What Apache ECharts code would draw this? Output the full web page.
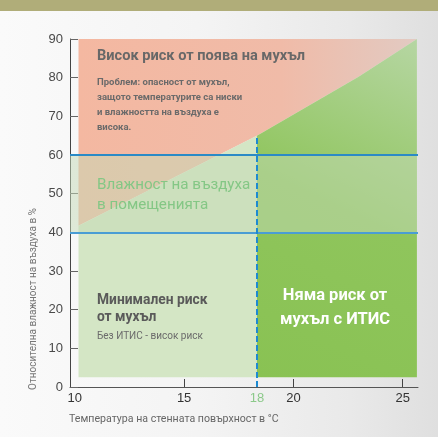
<!DOCTYPE html>
<html>
<head>
<meta charset="utf-8">
<script src="https://cdn.jsdelivr.net/npm/echarts@6/dist/echarts.min.js"></script>
<style>
  html, body { margin: 0; padding: 0; }
  body {
    width: 438px; height: 437px; overflow: hidden; position: relative;
    background: linear-gradient(to right, #fafafa 0%, #f4f4f4 45%, #e9e9e9 80%, #dfdfdf 100%);
  }
  #banner { position: absolute; left: 0; top: 0; width: 438px; height: 11px; background: #b0ad79; }
  #main { position: absolute; left: 0; top: 0; width: 438px; height: 437px; }
</style>
</head>
<body>
<div id="banner"></div>
<div id="main"></div>
<script>
  // значения, отчетени от графиката
  const xLabels = [10, 15, 18.33, 20, 25];   // 18 стои малко вдясно от истинското място
  const xTicks = [15, 20, 25];
  const yTicks = [0, 10, 20, 30, 40, 50, 60, 70, 80, 90];
  const itisTemp = 18.33;
  const humidityRange = [40, 60];
  const riskBoundary = [[10.17, 41.7], [18.33, 65], [23.0, 80.3], [25.65, 90]];

  // зони (полигони в координати на осите)
  const highRiskZone = [[10.17, 41.7], [10.17, 90], [25.65, 90], [23.0, 80.3], [18.33, 65]];
  const minimalRiskZone = [[10.17, 2.5], [10.17, 41.7], [18.33, 65], [18.33, 2.5]];
  const noRiskZone = [[18.33, 2.5], [18.33, 65], [23.0, 80.3], [25.65, 90], [25.65, 2.5]];
  const humidityZone = [[9.78, 40], [9.78, 60], [25.65, 60], [25.65, 40]];

  const zones = [highRiskZone, minimalRiskZone, noRiskZone, humidityZone];
  const zoneFills = [
    new echarts.graphic.LinearGradient(0, 0, 1, 0, [
      { offset: 0, color: '#f4b8a1' },
      { offset: 0.6, color: '#f0bba8' },
      { offset: 1, color: '#e2cac2' }
    ]),
    '#d4e6c5',
    new echarts.graphic.LinearGradient(0, 1, 1, 0, [
      { offset: 0, color: '#89c253' },
      { offset: 0.5, color: '#8fc55c' },
      { offset: 1, color: '#b6d6a3' }
    ]),
    'rgba(196,217,182,0.51)'
  ];

  const myChart = echarts.init(document.getElementById('main'));
  const condensed = "'Liberation Sans Narrow', Roboto, sans-serif";

  const option = {
    animation: false,
    grid: { left: 70, right: 20, top: 39, bottom: 50 },
    xAxis: {
      type: 'value',
      min: 9.78,
      max: 25.7,
      splitLine: { show: false },
      axisLine: { lineStyle: { color: '#555', width: 1 } },
      axisTick: { inside: true, length: 8, customValues: xTicks, lineStyle: { color: '#444' } },
      axisLabel: {
        customValues: xLabels,
        margin: 5,
        fontSize: 13,
        fontFamily: 'Liberation Sans, Arial, sans-serif',
        formatter: function (v) {
          const t = Math.round(v);
          return t === 18 ? '{g|' + t + '}' : String(t);
        },
        color: '#333',
        rich: { g: { color: '#8cc98a', fontSize: 13, fontFamily: 'Liberation Sans, Arial, sans-serif' } }
      }
    },
    yAxis: {
      type: 'value',
      min: 0,
      max: 90,
      interval: 10,
      splitLine: { show: false },
      axisLine: { show: true, lineStyle: { color: '#444', width: 1 } },
      axisTick: { show: true, inside: true, length: 8, lineStyle: { color: '#666' } },
      axisLabel: {
        customValues: yTicks,
        margin: 7,
        fontSize: 13,
        fontFamily: 'Liberation Sans, Arial, sans-serif',
        color: '#4a4a4a'
      }
    },
    series: [
      {
        type: 'custom',
        silent: true,
        z: 2,
        data: zones.map(function (z) { return z[0]; }),
        renderItem: function (params, api) {
          const pts = zones[params.dataIndex].map(function (p) { return api.coord(p); });
          return { type: 'polygon', shape: { points: pts }, style: { fill: zoneFills[params.dataIndex] } };
        }
      },
      {
        type: 'line',
        data: [],
        z: 5,
        markLine: {
          silent: true,
          symbol: 'none',
          label: { show: false },
          data: [
            { yAxis: humidityRange[1], lineStyle: { color: '#2b8ac6', width: 2, type: 'solid' } },
            { yAxis: humidityRange[0], lineStyle: { color: '#4a9dd4', width: 2, type: 'solid' } },
            [
              { coord: [itisTemp, 0], lineStyle: { color: '#1d8ad2', width: 2, type: [6, 3] } },
              { coord: [itisTemp, riskBoundary[1][1]] }
            ]
          ]
        }
      }
    ],
    graphic: [
      {
        type: 'text', left: 97, top: 49, z: 10,
        style: { text: 'Висок риск от поява на мухъл', fill: '#686868', font: 'bold 14.6px ' + condensed }
      },
      {
        type: 'text', left: 97, top: 75, z: 10,
        style: {
          text: 'Проблем: опасност от мухъл,\nзащото температурите са ниски\nи влажността на въздуха е\nвисока.',
          fill: '#6a6a6a', font: 'bold 9.5px ' + condensed, lineHeight: 15
        }
      },
      {
        type: 'text', left: 97, top: 175, z: 10,
        style: { text: 'Влажност на въздуха\nв помещенията', fill: '#84c785', font: '15.2px ' + condensed, lineHeight: 20 }
      },
      {
        type: 'text', left: 97, top: 292, z: 10,
        style: { text: 'Минимален риск\nот мухъл', fill: '#5a5a5a', font: 'bold 13.8px ' + condensed, lineHeight: 17 }
      },
      {
        type: 'text', left: 97, top: 331, z: 10,
        style: { text: 'Без ИТИС - висок риск', fill: '#6b6b6b', font: '10px ' + condensed }
      },
      {
        type: 'text', x: 335, y: 308, z: 10,
        style: {
          text: 'Няма риск от\nмухъл с ИТИС', fill: '#ffffff', font: 'bold 16.5px ' + condensed,
          lineHeight: 24, align: 'center', verticalAlign: 'middle'
        }
      },
      {
        type: 'text', x: 33, y: 299, rotation: Math.PI / 2, z: 10,
        style: {
          text: 'Относителна влажност на въздуха в %', fill: '#777', font: '10px ' + condensed,
          align: 'center', verticalAlign: 'middle'
        }
      },
      {
        type: 'text', left: 69, top: 414, z: 10,
        style: { text: 'Температура на стенната повърхност в °C', fill: '#666', font: '10.6px ' + condensed }
      }
    ]
  };

  myChart.setOption(option);
</script>
</body>
</html>
